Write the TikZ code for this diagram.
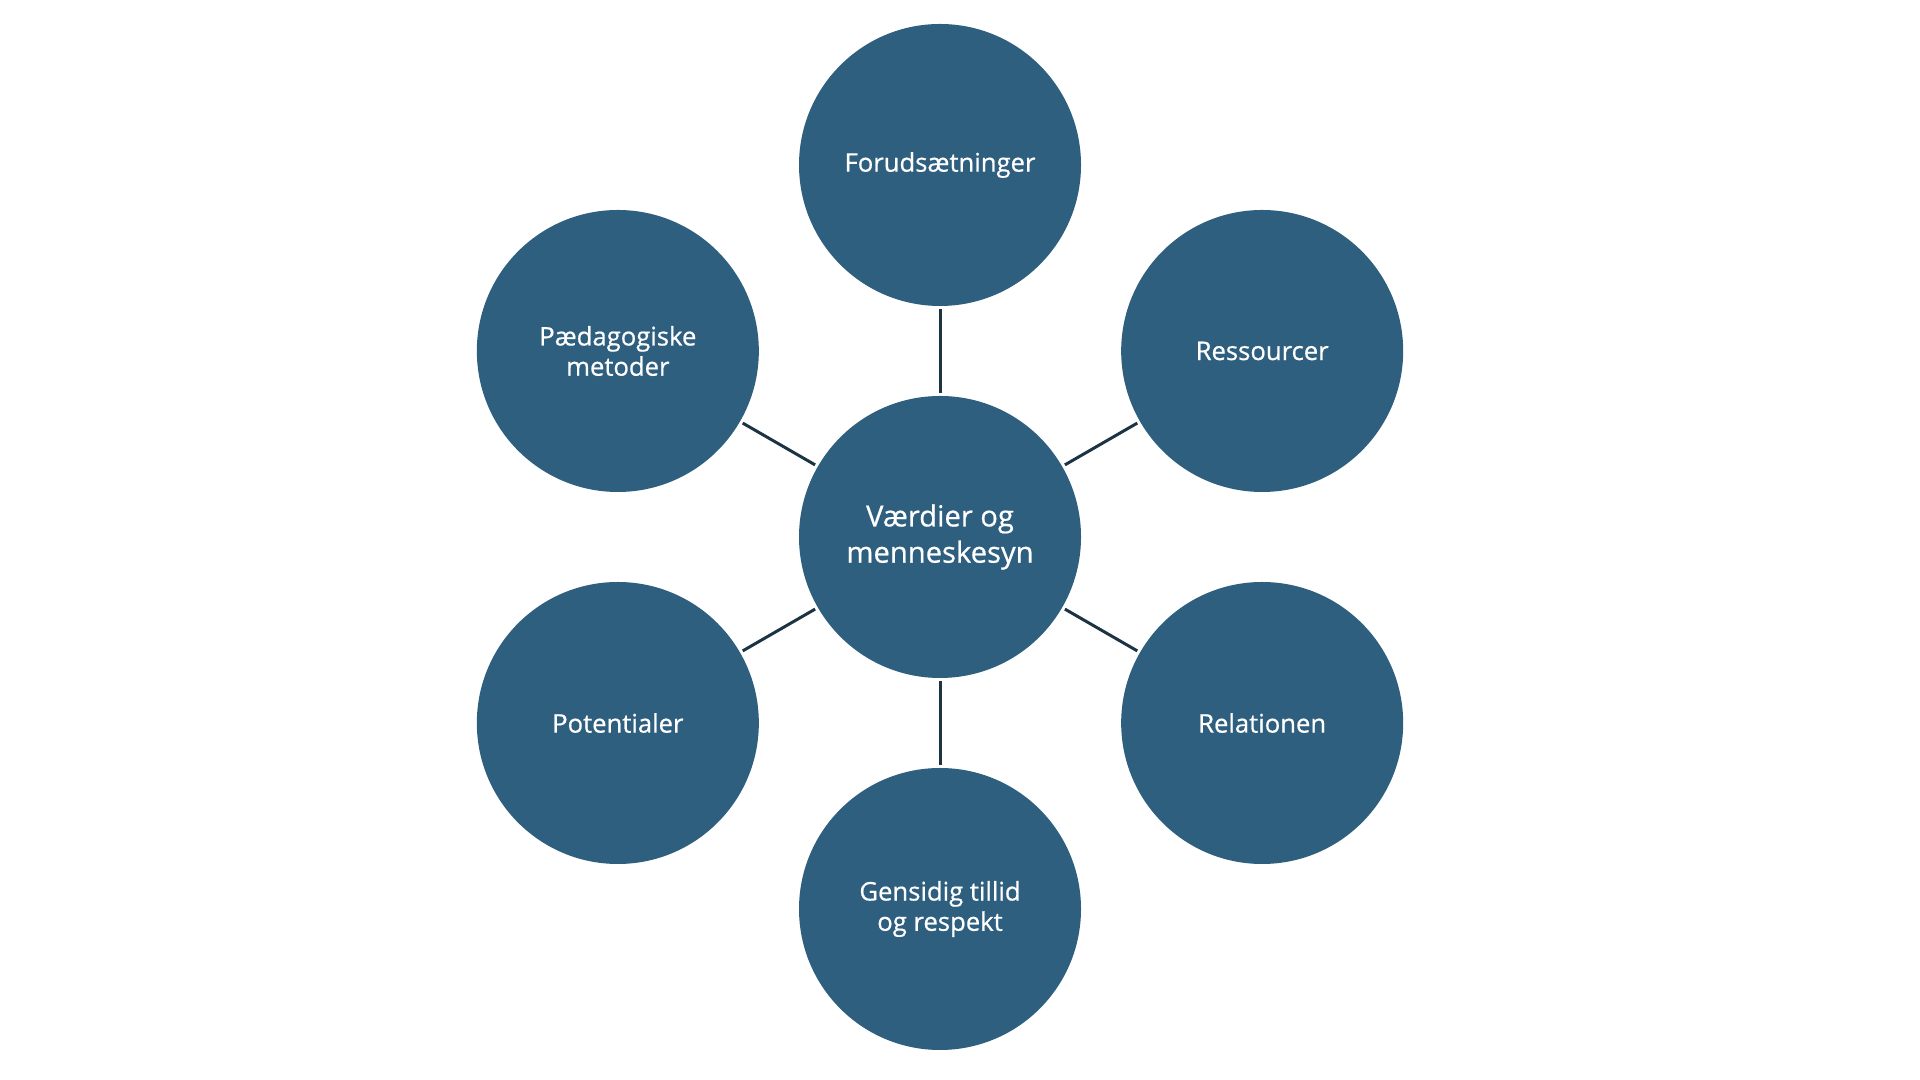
\documentclass[tikz,border=0pt]{standalone}
\usepackage{fontspec}
\setmainfont{Open Sans}[BoldFont={Open Sans}, BoldFeatures={FakeBold=0.6}]
\usepackage{tikz}
\usetikzlibrary{calc, positioning}
\usepackage{xcolor}
\definecolor{SteelBlue}{HTML}{2E5F7F}
\definecolor{DarkSlate}{HTML}{1C3344}
\tikzset{%
  topic/.style={%
    circle,%
    fill=SteelBlue,%
    draw=none,%
    minimum size=2.82cm,%
    inner sep=0pt,%
    text=white,%
    font={\bfseries\fontsize{7.3}{8.6}\selectfont},%
    align=center%
  },
  core/.style={%
    topic,%
    font={\bfseries\fontsize{8.3}{10.3}\selectfont},%
  },
  spoke/.style={%
    color=DarkSlate,%
    line width=0.85pt,%
    shorten >=0.025cm,%
    shorten <=0.025cm%
  },
}
\begin{document}
\begin{tikzpicture}

    \useasboundingbox [fill=white] (0, 0) rectangle (19.2, 10.8);

    \node [core] (Values) at (9.40, 5.43) {V\ae rdier og\\menneskesyn};
    \node [topic] (Prerequisites) at ($(Values) + (90:3.72)$) {Forudsætninger};
    \node [topic] (Resources) at ($(Values) + (30:3.72)$) {Ressourcer};
    \node [topic] (Relation) at ($(Values) + (-30:3.72)$) {Relationen};
    \node [topic] (Trust) at ($(Values) + (-90:3.72)$) {Gensidig tillid\\og respekt};
    \node [topic] (Potentials) at ($(Values) + (-150:3.72)$) {Potentialer};
    \node [topic] (Methods) at ($(Values) + (150:3.72)$) {Pædagogiske\\metoder};

    \draw [spoke] (Values) -- (Prerequisites);
    \draw [spoke] (Values) -- (Resources);
    \draw [spoke] (Values) -- (Relation);
    \draw [spoke] (Values) -- (Trust);
    \draw [spoke] (Values) -- (Potentials);
    \draw [spoke] (Values) -- (Methods);
  \end{tikzpicture}
\end{document}
